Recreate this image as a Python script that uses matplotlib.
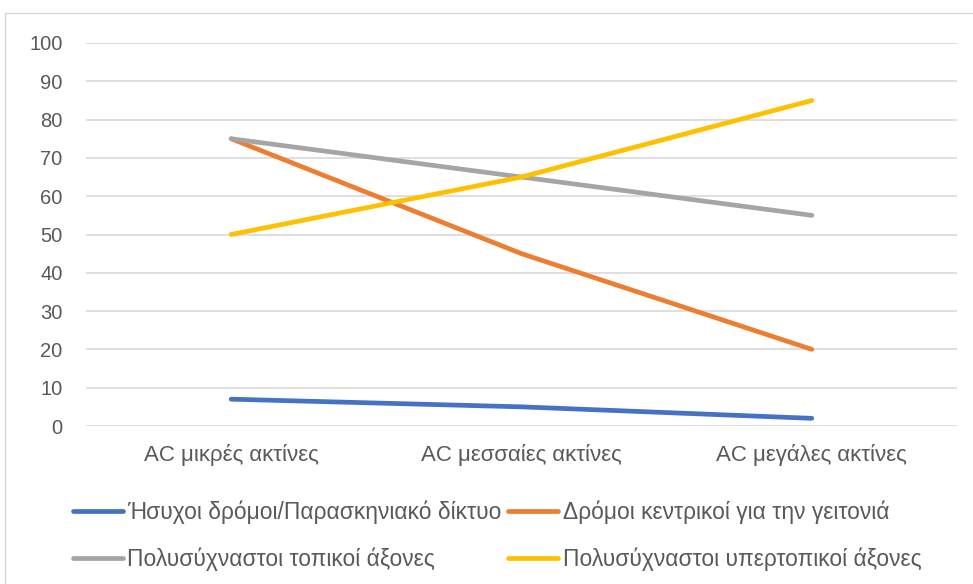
import matplotlib.pyplot as plt
from matplotlib.patches import Rectangle

plt.rcParams['font.family'] = ['Liberation Sans', 'DejaVu Sans']

# δεδομένα
categories = ['AC μικρές ακτίνες', 'AC μεσσαίες ακτίνες', 'AC μεγάλες ακτίνες']
series_names = ['Ήσυχοι δρόμοι/Παρασκηνιακό δίκτυο',
                'Δρόμοι κεντρικοί για την γειτονιά',
                'Πολυσύχναστοι τοπικοί άξονες',
                'Πολυσύχναστοι υπερτοπικοί άξονες']
quiet_roads = [7, 5, 2]
central_roads = [75, 45, 20]
local_axes = [75, 65, 55]
supralocal_axes = [50, 65, 85]
yticks = list(range(0, 101, 10))

colors = ['#4472C4', '#ED7D31', '#A5A5A5', '#FFC000']
text_col = '#595959'

fig = plt.figure(figsize=(9.73, 5.84), dpi=100)
ax = fig.add_axes([86/973, 158/584, 871/973, 383/584])

x = range(len(categories))
lines = []
for vals, name, c in zip([quiet_roads, central_roads, local_axes, supralocal_axes],
                         series_names, colors):
    ln, = ax.plot(x, vals, color=c, lw=3.4, solid_capstyle='round', label=name, zorder=3)
    lines.append(ln)

ax.set_xlim(-0.5, 2.5)
ax.set_ylim(0, 100)
ax.set_yticks(yticks)
ax.set_xticks(list(x))
ax.set_xticklabels(categories)
ax.grid(axis='y', color='#D9D9D9', lw=1.2)
ax.set_axisbelow(True)
for s in ax.spines.values():
    s.set_visible(False)
ax.tick_params(axis='both', length=0, colors=text_col)
ax.tick_params(axis='x', pad=13, labelsize=16)
ax.tick_params(axis='y', pad=17, labelsize=14.5)

# πλαίσιο γραφήματος
fig.patches.append(Rectangle((5/973, -0.1), 1.2, 1.1 - 13/584, transform=fig.transFigure,
                             fill=False, edgecolor='#D9D9D9', lw=1))

# υπόμνημα ανά γραμμή: 1-2 πάνω, 3-4 κάτω
order = [0, 2, 1, 3]
leg = fig.legend([lines[i] for i in order], [series_names[i] for i in order],
                 loc='upper left', bbox_to_anchor=(52/973, 1 - 480/584), ncol=2,
                 frameon=False, fontsize=16.4, handlelength=2.2, handletextpad=0.2,
                 columnspacing=0.3, labelspacing=1.05)
for t in leg.get_texts():
    t.set_color(text_col)

fig.savefig('out.png', dpi=100)
